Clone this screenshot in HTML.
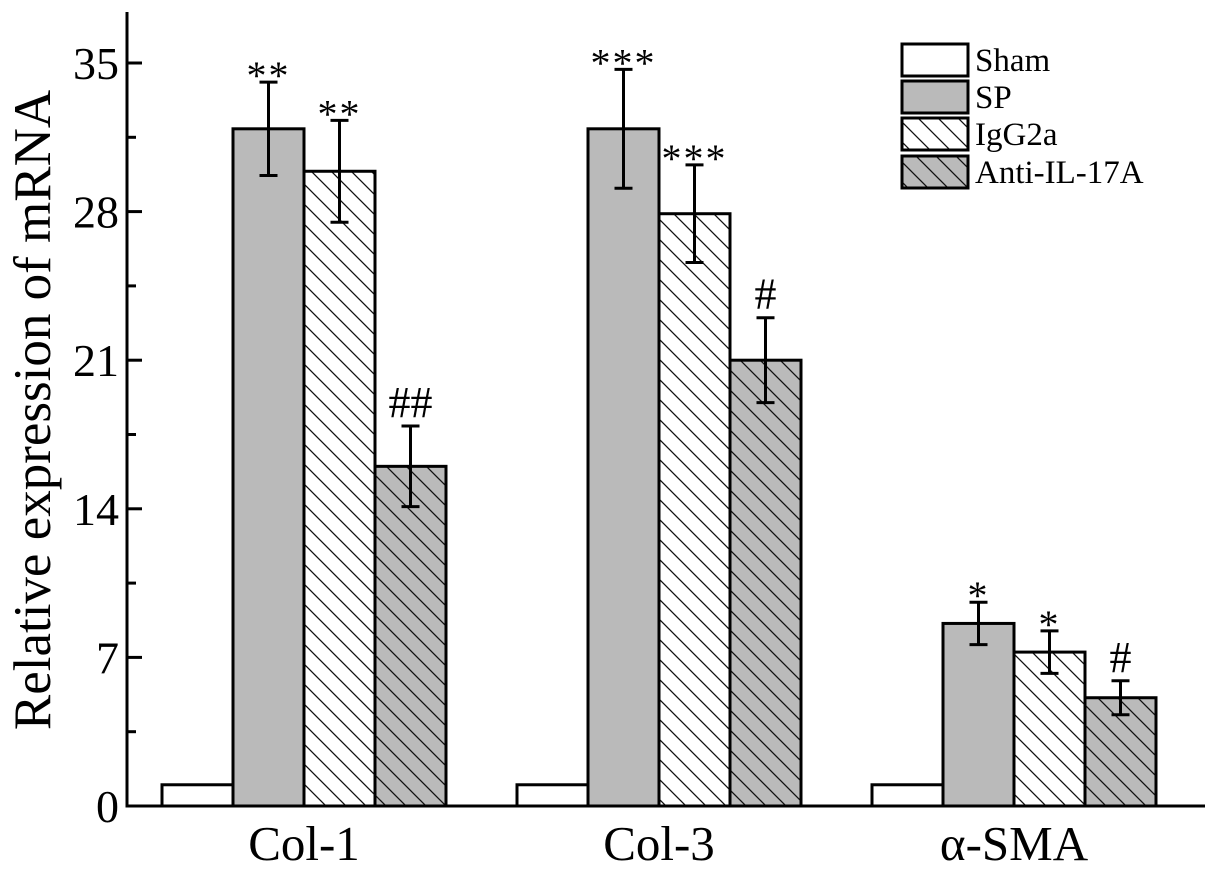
<!DOCTYPE html>
<html><head><meta charset="utf-8"><style>
html,body{margin:0;padding:0;background:#fff;}
svg{display:block;font-family:"Liberation Serif",serif;}
</style></head><body>
<svg id="chart" width="1205" height="869" viewBox="0 0 1205 869">
<defs>
<pattern id="hatchW" patternUnits="userSpaceOnUse" width="20" height="20">
<rect width="20" height="20" fill="#fff"/><path d="M-5,-5 L25,25 M-5,15 L5,25 M15,-5 L25,5" stroke="#111" stroke-width="1.3"/>
</pattern>
<pattern id="hatchG" patternUnits="userSpaceOnUse" width="20" height="20">
<rect width="20" height="20" fill="#bababa"/><path d="M-5,-5 L25,25 M-5,15 L5,25 M15,-5 L25,5" stroke="#111" stroke-width="1.3"/>
</pattern>
</defs>
<g id="plot"></g>
</svg>
<script>
const categories = ["Col-1","Col-3","α-SMA"];
const seriesNames = ["Sham","SP","IgG2a","Anti-IL-17A"];
const sham = [1.0, 1.0, 1.0];
const sp = [31.9, 31.9, 8.6];
const igg = [29.9, 27.9, 7.25];
const anti = [16.0, 21.0, 5.1];
const spErr = [2.2, 2.8, 1.0];
const iggErr = [2.4, 2.3, 1.0];
const antiErr = [1.9, 2.0, 0.8];
const shamErr = [0, 0, 0];
const spMarks = ["**","***","*"];
const iggMarks = ["**","***","*"];
const antiMarks = ["##","#","#"];
const yTicks = [0,7,14,21,28,35];

const series = [sham, sp, igg, anti];
const errs = [shamErr, spErr, iggErr, antiErr];
const marks = [null, spMarks, iggMarks, antiMarks];
const fills = ["#fff","#bababa","url(#hatchW)","url(#hatchG)"];
const NS = "http://www.w3.org/2000/svg";
const g = document.getElementById("plot");
const x0 = 127, y0 = 806, yMax = 35, yTop = 63;
function y(v){ return y0 - v*(y0-yTop)/yMax; }
const barW = 71, groupStart = 162, groupStep = 355;
function xBar(ci, si){ return groupStart + ci*groupStep + si*barW; }
function mk(tag, attrs, parent){ const e=document.createElementNS(NS,tag); for(const k in attrs) e.setAttribute(k,attrs[k]); (parent||g).appendChild(e); return e; }

categories.forEach((c,ci)=>{
  series.forEach((s,si)=>{
    const bx = xBar(ci,si), by = y(s[ci]);
    const r = mk("rect",{x:bx,y:by,width:barW,height:y0-by,fill:fills[si],stroke:"#000","stroke-width":3});
    
    
    const e = errs[si][ci];
    if(e>0){
      const cx = bx+barW/2, t=y(s[ci]+e), b=y(s[ci]-e);
      const eg = mk("path",{d:`M${cx},${t}V${b}M${cx-9},${t}H${cx+9}M${cx-9},${b}H${cx+9}`,stroke:"#000","stroke-width":3,fill:"none"});
      
      
      const isHash = marks[si][ci].indexOf("#")>=0;
      const tx = mk("text",{x:cx,y:t-(isHash?9:-7),"text-anchor":"middle","font-size":isHash?44:40,"letter-spacing":isHash?0:2});
      tx.textContent = marks[si][ci];
      
      
    }
  });
  const lab = mk("text",{x:xBar(ci,2),y:860,"text-anchor":"middle","font-size":49});
  lab.textContent = c;
  
  
});

const ax = mk("path",{d:`M${x0},12V${y0}H1205`,stroke:"#000","stroke-width":3,fill:"none"});


yTicks.forEach((t,i)=>{
  mk("line",{x1:x0,x2:x0+15,y1:y(t),y2:y(t),stroke:"#000","stroke-width":3});
  if(i<yTicks.length-1) mk("line",{x1:x0,x2:x0+9,y1:y(t+3.5),y2:y(t+3.5),stroke:"#000","stroke-width":3});
  const tl = mk("text",{x:x0-8,y:y(t)+16,"text-anchor":"end","font-size":46});
  tl.textContent = t;
  
  
});
mk("line",{x1:x0,x2:x0+9,y1:y(38.5),y2:y(38.5),stroke:"#000","stroke-width":3});
const yl = mk("text",{x:0,y:0,transform:"translate(50,410) rotate(-90)","text-anchor":"middle","font-size":53});
yl.textContent = "Relative expression of mRNA";



const ly = [44, 81, 118, 156];
seriesNames.forEach((n,i)=>{
  const lr = mk("rect",{x:902,y:ly[i],width:66,height:32,fill:fills[i],stroke:"#000","stroke-width":3});
  
  
  const lt = mk("text",{x:975,y:ly[i]+27,"font-size":33});
  lt.textContent = n;
  
  
});
</script>
</body></html>
